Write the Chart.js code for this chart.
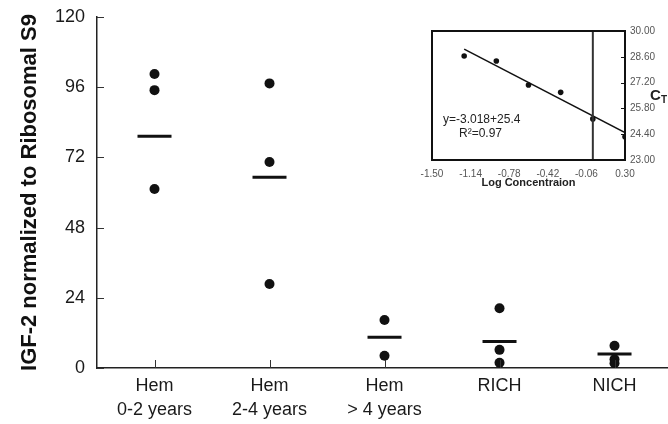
<!DOCTYPE html>
<html>
<head>
<meta charset="utf-8">
<script src="https://cdn.jsdelivr.net/npm/chart.js@4/dist/chart.umd.min.js"></script>
<style>
  body { margin: 0; background: #fff; }
  #wrap { position: relative; width: 668px; height: 424px; }
  #main { position: absolute; left: 0; top: 0; }
  #inset { position: absolute; left: 400px; top: 20px; }
</style>
</head>
<body>
<div id="wrap">
  <canvas id="main" width="668" height="424"></canvas>
  <canvas id="inset" width="268" height="175"></canvas>
</div>
<script>
// grupos del grafico principal
const grupos = [['Hem', '0-2 years'], ['Hem', '2-4 years'], ['Hem', '> 4 years'], ['RICH'], ['NICH']];
// valores individuales por grupo
const valores = [
  [100.5, 95.0, 61.2],
  [97.3, 70.4, 28.7],
  [16.4, 4.2],
  [20.4, 6.2, 1.8],
  [7.6, 3.0, 1.6]
];
// linea de la media de cada grupo
const medias = [79.2, 65.2, 10.5, 9.1, 4.8];
const ticksY = [0, 24, 48, 72, 96, 120];

// datos del recuadro (curva estandar)
const logConc = [-1.2, -0.9, -0.6, -0.3, 0.0, 0.3];
const ct = [28.64, 28.37, 27.07, 26.67, 25.23, 24.26];
const ajusteX = [-1.2, 0.3];
const ajusteY = [29.02, 24.49];
const ticksInsetX = [-1.50, -1.14, -0.78, -0.42, -0.06, 0.30];
const ticksInsetY = [23.00, 24.40, 25.80, 27.20, 28.60, 30.00];
const lineaVertical = 0.0;

const negro = '#111';
const fuente = "'Liberation Sans', Arial, sans-serif";

let puntos = [];
valores.forEach((grupo, i) => {
  grupo.forEach(v => puntos.push({x: i + 1, y: v}));
});
let lineasMedia = medias.map((m, i) => ({x: i + 1, y: m}));

// marcas hacia adentro en los ejes
let marcasInternas = {
  id: 'marcasInternas',
  afterDraw(chart) {
    let ctx = chart.ctx;
    let x = chart.scales.x, y = chart.scales.y;
    let area = chart.chartArea;
    ctx.save();
    ctx.strokeStyle = '#333';
    ctx.lineWidth = 1;
    ticksY.forEach(v => {
      let py = Math.round(y.getPixelForValue(v)) + 0.5;
      ctx.beginPath();
      ctx.moveTo(area.left, py);
      ctx.lineTo(area.left + 7, py);
      ctx.stroke();
    });
    grupos.forEach((g, i) => {
      let px = Math.round(x.getPixelForValue(i + 1)) + 0.5;
      ctx.beginPath();
      ctx.moveTo(px, area.bottom);
      ctx.lineTo(px, area.bottom - 8);
      ctx.stroke();
    });
    ctx.restore();
  }
};

new Chart(document.getElementById('main'), {
  type: 'scatter',
  data: {
    datasets: [
      {
        data: puntos,
        pointRadius: 5,
        pointBackgroundColor: negro,
        pointBorderColor: negro,
        pointBorderWidth: 0
      },
      {
        data: lineasMedia,
        pointStyle: 'line',
        pointRadius: 17,
        pointBorderColor: negro,
        pointBorderWidth: 3
      }
    ]
  },
  options: {
    responsive: false,
    animation: false,
    events: [],
    layout: { autoPadding: false, padding: { top: 17, right: 0, left: 0, bottom: 0 } },
    plugins: { legend: { display: false }, tooltip: { enabled: false } },
    scales: {
      x: {
        type: 'linear',
        min: 0.5,
        max: 5.465,
        afterBuildTicks: s => { s.ticks = grupos.map((g, i) => ({value: i + 1})); },
        afterFit: s => { s.height = 56; s.paddingLeft = 0; s.paddingRight = 0; },
        grid: { display: false, drawTicks: false },
        border: { display: true, color: '#222', width: 1.5 },
        ticks: {
          padding: 6,
          color: '#1a1a1a',
          font: { family: fuente, size: 18, lineHeight: 1.35 },
          callback: v => grupos[v - 1]
        }
      },
      y: {
        min: 0,
        max: 120,
        afterBuildTicks: s => { s.ticks = ticksY.map(v => ({value: v})); },
        afterFit: s => { s.width = 97; s.paddingTop = 0; s.paddingBottom = 0; },
        grid: { display: false, drawTicks: false },
        border: { display: true, color: '#222', width: 1.5 },
        ticks: {
          padding: 12,
          color: '#1a1a1a',
          font: { family: fuente, size: 18 }
        },
        title: {
          display: true,
          text: 'IGF-2 normalized to Ribosomal S9',
          color: '#111',
          padding: { top: 17, bottom: 0 },
          font: { family: fuente, size: 22, weight: 'bold' }
        }
      }
    }
  },
  plugins: [marcasInternas]
});

// recuadro, linea vertical y textos del inset
let decoracionInset = {
  id: 'decoracionInset',
  afterDraw(chart) {
    let ctx = chart.ctx;
    let a = chart.chartArea;
    let px = chart.scales.x.getPixelForValue(lineaVertical);
    ctx.save();
    ctx.strokeStyle = '#333';
    ctx.lineWidth = 2;
    ctx.beginPath();
    ctx.moveTo(px, a.top);
    ctx.lineTo(px, a.bottom);
    ctx.stroke();
    ctx.strokeStyle = '#111';
    ctx.strokeRect(a.left, a.top, a.right - a.left, a.bottom - a.top);

    // marcas cortas hacia adentro en el eje derecho
    ctx.lineWidth = 1;
    ticksInsetY.forEach(v => {
      let py = Math.round(chart.scales.y.getPixelForValue(v)) + 0.5;
      ctx.beginPath();
      ctx.moveTo(a.right, py);
      ctx.lineTo(a.right - 4, py);
      ctx.stroke();
    });

    ctx.fillStyle = '#222';
    ctx.font = "12px " + fuente;
    ctx.textBaseline = 'middle';
    ctx.fillText('y=-3.018+25.4', a.left + 11, 100);
    ctx.fillText('R\u00B2=0.97', a.left + 27, 114);

    ctx.font = "bold 15px " + fuente;
    ctx.fillText('C', a.right + 25, 76);
    ctx.font = "bold 10px " + fuente;
    ctx.fillText('T', a.right + 36, 80);
    ctx.restore();
  }
};

new Chart(document.getElementById('inset'), {
  type: 'scatter',
  data: {
    datasets: [
      {
        data: logConc.map((x, i) => ({x: x, y: ct[i]})),
        pointRadius: 2.8,
        pointBackgroundColor: negro,
        pointBorderWidth: 0
      },
      {
        type: 'line',
        data: ajusteX.map((x, i) => ({x: x, y: ajusteY[i]})),
        borderColor: negro,
        borderWidth: 1.5,
        pointRadius: 0
      }
    ]
  },
  options: {
    responsive: false,
    animation: false,
    events: [],
    layout: { autoPadding: false, padding: { top: 11, left: 32, right: 0, bottom: 0 } },
    plugins: { legend: { display: false }, tooltip: { enabled: false } },
    scales: {
      x: {
        type: 'linear',
        min: -1.5,
        max: 0.3,
        afterBuildTicks: s => { s.ticks = ticksInsetX.map(v => ({value: v})); },
        afterFit: s => { s.height = 35; },
        grid: { display: false, drawTicks: false },
        border: { display: false },
        ticks: {
          padding: 8,
          color: '#555',
          font: { family: fuente, size: 10 },
          callback: v => v.toFixed(2)
        },
        title: {
          display: true,
          text: 'Log Concentraion',
          color: '#222',
          padding: { top: 0, bottom: 5 },
          font: { family: fuente, size: 11, weight: 'bold' }
        }
      },
      y: {
        position: 'right',
        min: 23,
        max: 30,
        afterBuildTicks: s => { s.ticks = ticksInsetY.map(v => ({value: v})); },
        afterFit: s => { s.width = 43; },
        grid: { display: false, drawTicks: false },
        border: { display: false },
        ticks: {
          padding: 5,
          color: '#555',
          font: { family: fuente, size: 10 },
          callback: v => v.toFixed(2)
        }
      }
    }
  },
  plugins: [decoracionInset]
});
</script>
</body>
</html>
